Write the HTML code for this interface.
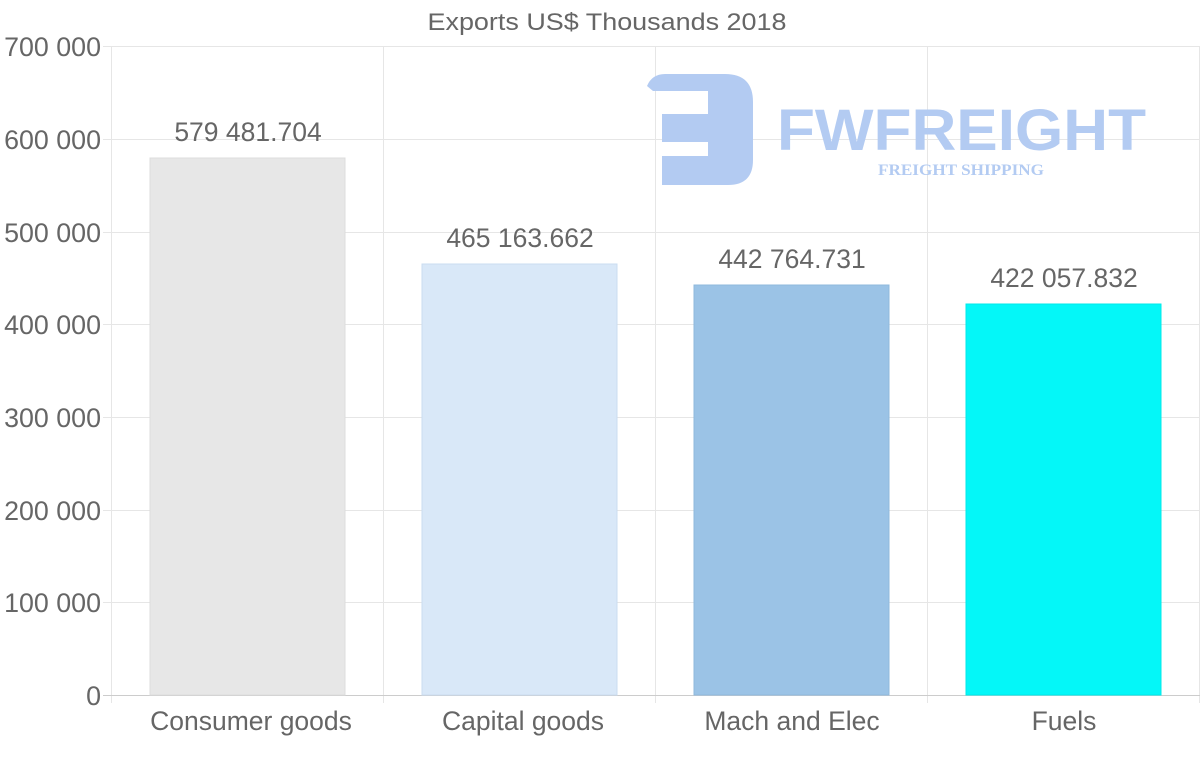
<!DOCTYPE html>
<html><head><style>
html,body{margin:0;padding:0;background:#fff;width:1200px;height:763px;overflow:hidden}
svg text{font-family:"Liberation Sans",sans-serif}
</style></head><body>
<svg width="1200" height="763" xmlns="http://www.w3.org/2000/svg">
<text x="607" y="30" text-anchor="middle" font-size="24" fill="#666" textLength="359" lengthAdjust="spacingAndGlyphs">Exports US$ Thousands 2018</text>
<g stroke="#e6e6e6" stroke-width="1">
<line x1="103" y1="46.5" x2="1200" y2="46.5"/>
<line x1="103" y1="139.5" x2="1200" y2="139.5"/>
<line x1="103" y1="232.5" x2="1200" y2="232.5"/>
<line x1="103" y1="324.5" x2="1200" y2="324.5"/>
<line x1="103" y1="417.5" x2="1200" y2="417.5"/>
<line x1="103" y1="510.5" x2="1200" y2="510.5"/>
<line x1="103" y1="602.5" x2="1200" y2="602.5"/>
<line x1="111.5" y1="46" x2="111.5" y2="703"/>
<line x1="383.5" y1="46" x2="383.5" y2="703"/>
<line x1="655.5" y1="46" x2="655.5" y2="703"/>
<line x1="927.5" y1="46" x2="927.5" y2="703"/>
<line x1="1199.5" y1="46" x2="1199.5" y2="703"/>
</g>
<line x1="103" y1="695.5" x2="1200" y2="695.5" stroke="#ccc"/>
<g fill="#b3cbf2">
<path d="M647 86 Q652 74 665 74 L725 74 Q753 74 753 102 L753 160 Q753 185 728 185 L662 185 L662 156 L708 156 L708 142 L662 142 L662 114 L708 114 L708 91 L653 91 Z"/>
</g>
<text x="777" y="150" font-size="58" font-weight="bold" fill="#b3cbf2" textLength="369" lengthAdjust="spacingAndGlyphs">FWFREIGHT</text>
<text x="878" y="175" font-size="16" font-weight="bold" fill="#b3cbf2" style="font-family:'Liberation Serif',serif" textLength="166" lengthAdjust="spacingAndGlyphs">FREIGHT SHIPPING</text>
<rect x="150" y="158" width="195" height="537" fill="#e7e7e7" stroke="#dcdcdc"/>
<rect x="422" y="264" width="195" height="431" fill="#d9e8f8" stroke="#cadcf0"/>
<rect x="694" y="285" width="195" height="410" fill="#9bc3e6" stroke="#8fb8dc"/>
<rect x="966" y="304" width="195" height="391" fill="#04f7f8" stroke="#00e8ea"/>
<g font-size="26.5" fill="#666" text-anchor="middle">
<text x="248" y="141">579 481.704</text>
<text x="520" y="247">465 163.662</text>
<text x="792" y="268">442 764.731</text>
<text x="1064" y="287">422 057.832</text>
<text x="251" y="730">Consumer goods</text>
<text x="523" y="730">Capital goods</text>
<text x="792" y="730">Mach and Elec</text>
<text x="1064" y="730">Fuels</text>
</g>
<g font-size="26.8" fill="#666" text-anchor="end">
<text x="101" y="56">700 000</text>
<text x="101" y="149">600 000</text>
<text x="101" y="242">500 000</text>
<text x="101" y="334">400 000</text>
<text x="101" y="427">300 000</text>
<text x="101" y="520">200 000</text>
<text x="101" y="612">100 000</text>
<text x="101" y="705">0</text>
</g>
</svg>
</body></html>
